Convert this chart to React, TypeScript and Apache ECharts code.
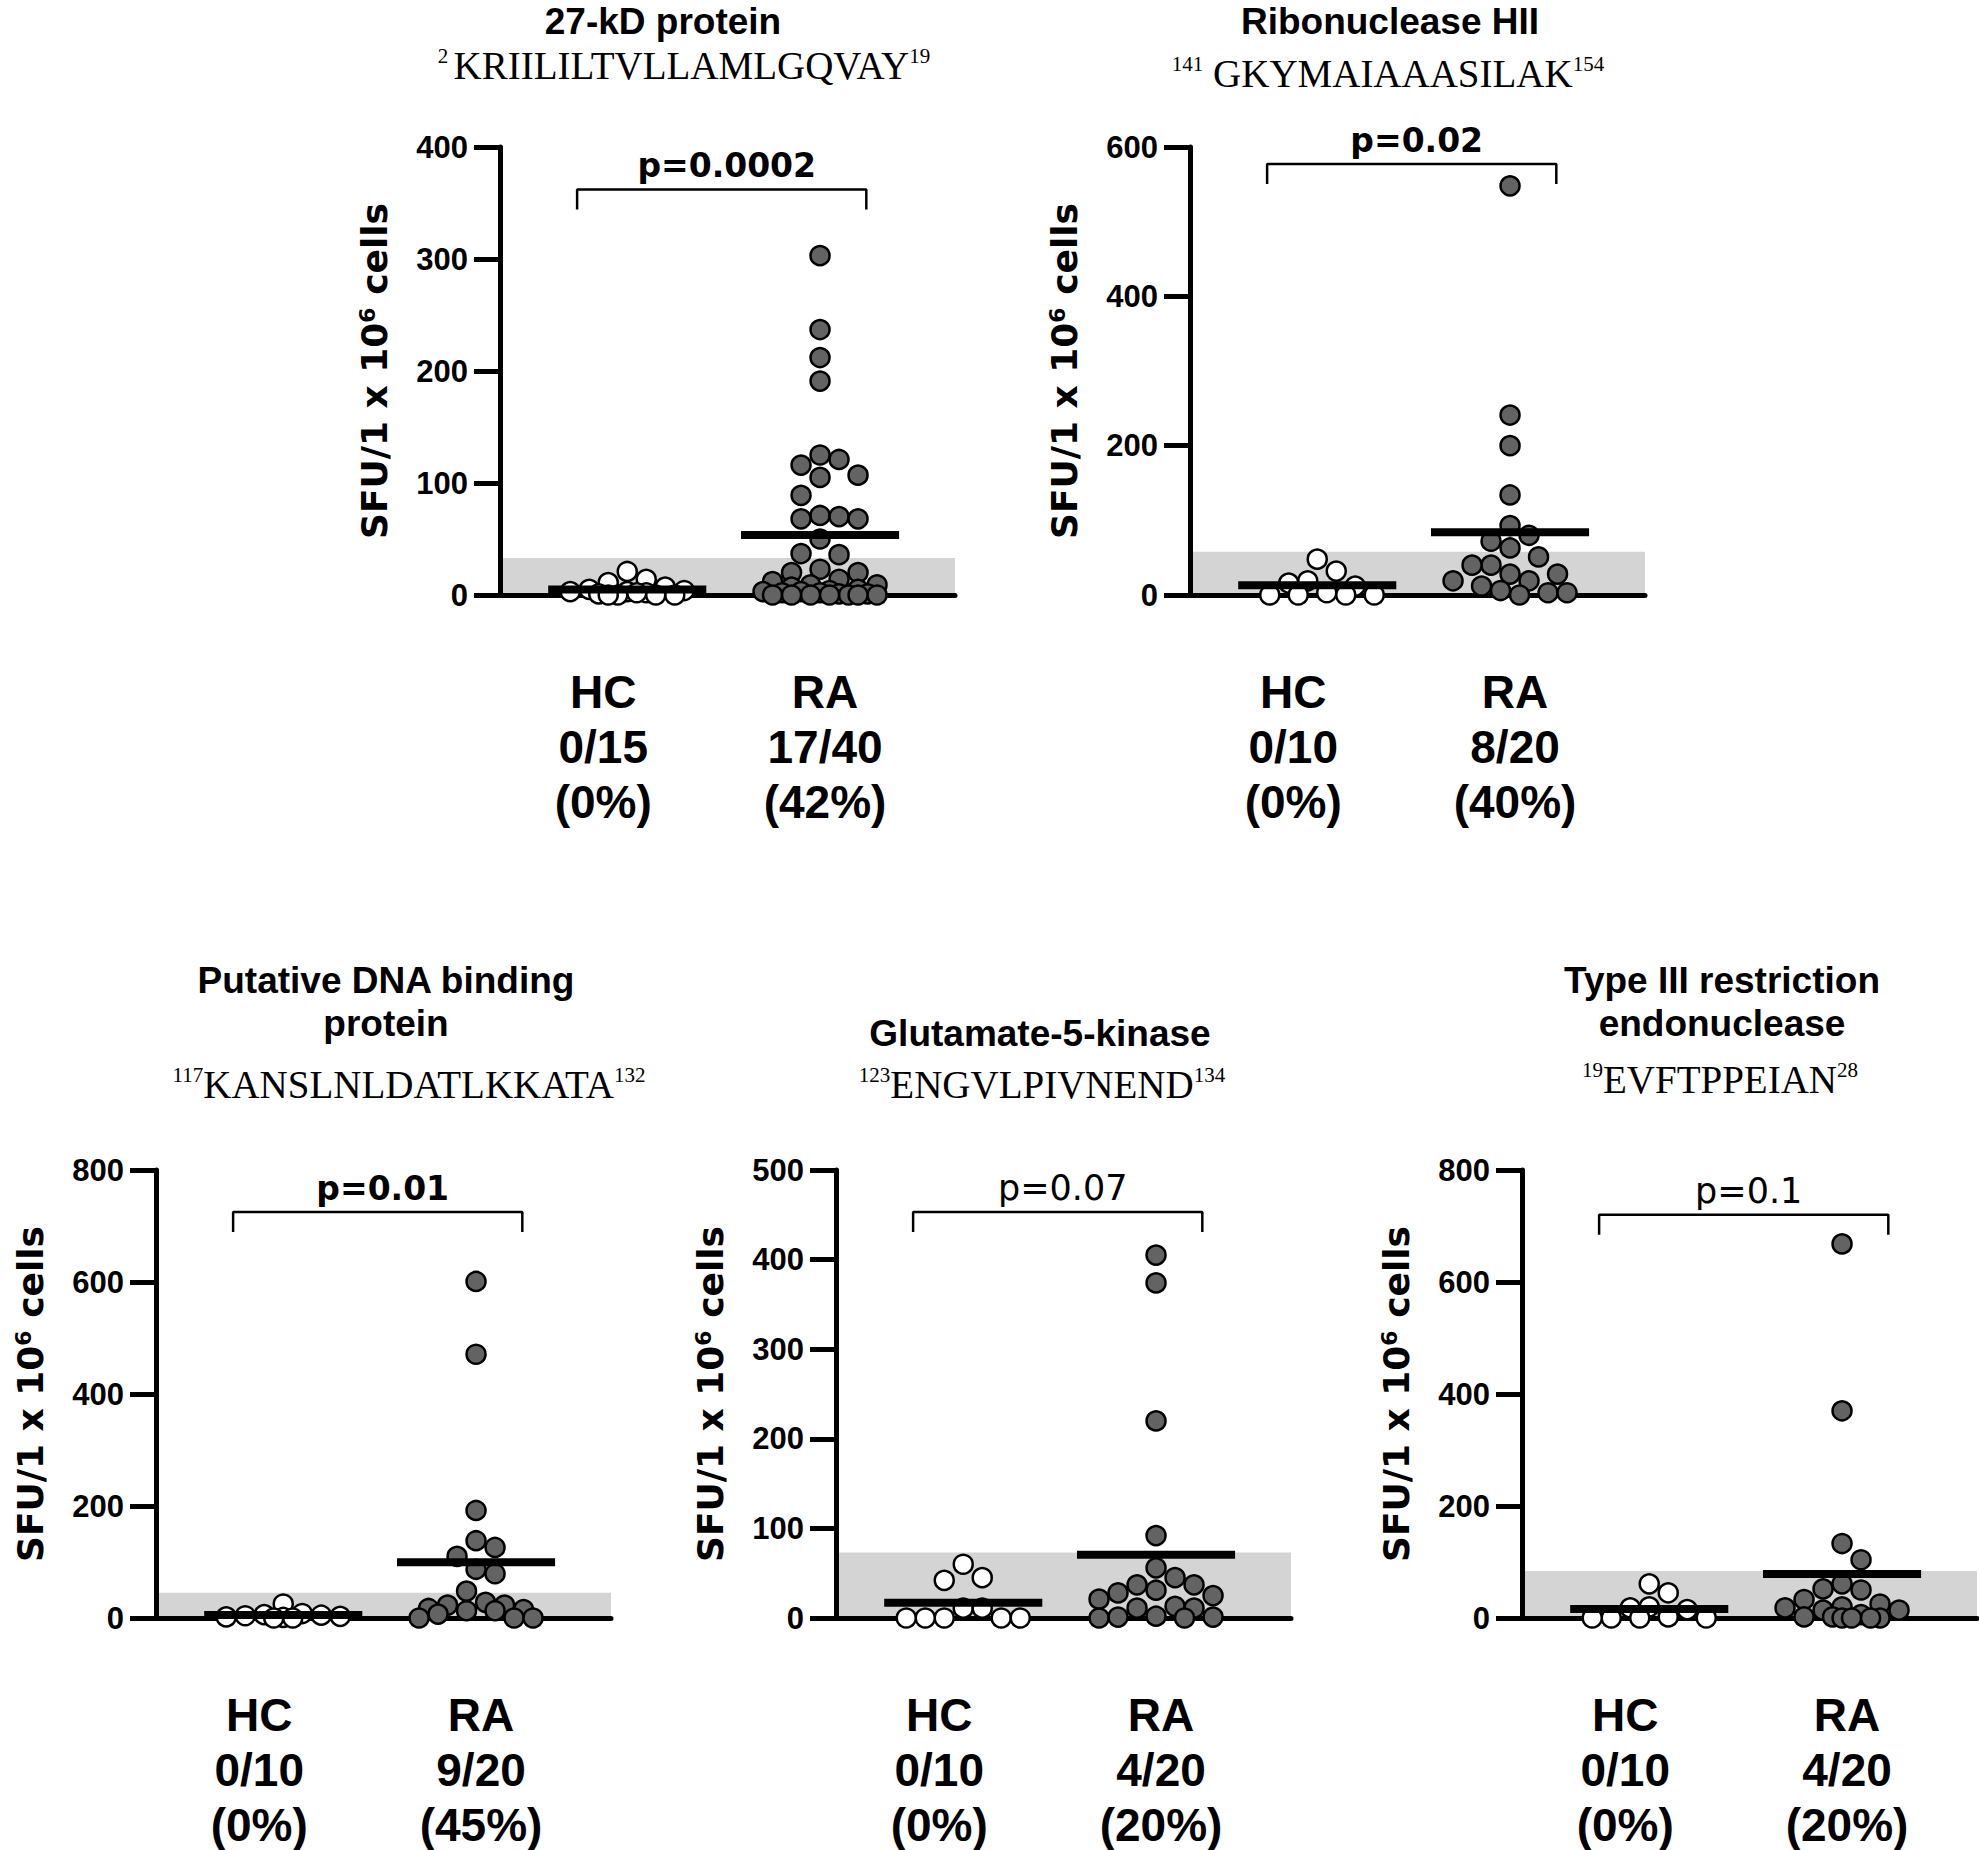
import React, { useEffect, useRef } from 'react';
import * as echarts from 'echarts';

const SANS = '"Liberation Sans", Arial, Helvetica, sans-serif';
const WIDE = '"DejaVu Sans", Verdana, sans-serif';
const SERIF = '"Liberation Serif", "Times New Roman", Times, serif';

// ---------- data ----------
const groups = ['HC', 'RA'];

const panelTitles = [
  '27-kD protein',
  'Ribonuclease HII',
  'Putative DNA binding\nprotein',
  'Glutamate-5-kinase',
  'Type III restriction\nendonuclease',
];
const seqStart = ['2 ', '141', '117', '123', '19'];
const seqBody = ['KRIILILTVLLAMLGQVAY', ' GKYMAIAAASILAK', 'KANSLNLDATLKKATA', 'ENGVLPIVNEND', 'EVFTPPEIAN'];
const seqEnd = ['19', '154', '132', '134', '28'];

const hc27kD = [21, 14, 11, 7, 5, 4, 3, 3, 2, 2, 1, 0, 0, 0, 0];
const ra27kD = [303, 237, 212, 191, 125, 121, 116, 107, 105, 89, 71, 70, 68, 68, 50, 37, 36, 23, 20, 20,
  14, 12, 9, 9, 7, 5, 4, 3, 3, 2, 2, 1, 1, 0, 0, 0, 0, 0, 0, 0];
const hcRnase = [48, 32, 19, 16, 12, 3, 0, 0, 0, 0];
const raRnase = [548, 241, 200, 134, 93, 80, 72, 63, 51, 40, 40, 28, 28, 19, 19, 12, 6, 3, 3, 0];
const hcDnaBind = [25, 8, 6, 5, 4, 3, 2, 1, 0, 0];
const raDnaBind = [601, 471, 192, 138, 126, 110, 87, 79, 48, 28, 23, 23, 17, 15, 13, 13, 7, 0, 0, 0];
const hcGlu5K = [60, 45, 42, 11, 11, 0, 0, 0, 0, 0];
const raGlu5K = [405, 374, 220, 92, 56, 45, 37, 37, 31, 28, 25, 21, 13, 11, 11, 2, 1, 1, 0, 0];
const hcType3 = [61, 45, 20, 18, 15, 2, 0, 0, 0, 0];
const raType3 = [668, 370, 133, 104, 61, 52, 50, 33, 25, 20, 18, 14, 14, 6, 2, 2, 0, 0, 0, 0];

const hcValues = [hc27kD, hcRnase, hcDnaBind, hcGlu5K, hcType3];
const raValues = [ra27kD, raRnase, raDnaBind, raGlu5K, raType3];

const yMax = [400, 600, 800, 500, 800];
const yStep = [100, 200, 200, 100, 200];
const thresholds = [33, 58, 45, 73, 84];
const pTexts = ['p=0.0002', 'p=0.02', 'p=0.01', 'p=0.07', 'p=0.1'];
const pBold = [true, true, true, false, false];
const hcCounts = ['0/15', '0/10', '0/10', '0/10', '0/10'];
const hcPct = ['(0%)', '(0%)', '(0%)', '(0%)', '(0%)'];
const raCounts = ['17/40', '8/20', '9/20', '4/20', '4/20'];
const raPct = ['(42%)', '(40%)', '(45%)', '(20%)', '(20%)'];
const yTitle = 'SFU/1 x 10{sup|6} cells';

// ---------- layout / style ----------
const GRID_W = 455;
const GRID_H = 448;
const gridPos = [[500, 147], [1190, 147], [156, 1170], [836, 1170], [1522, 1170]];
const titlePos = [[663, 21], [1390, 21], [386, 1002], [1040, 1033], [1722, 1002]];
const seqPos = [[684, 65], [1388, 73], [409, 1084], [1042, 1084], [1720, 1079]];
const bracketFrac = [0.905, 0.962, 0.906, 0.906, 0.9];
const X_MIN = 0.34;
const X_MAX = 2.7;
const COLLIDE = 19;
const Y_WEIGHT = 0.85;
const SPREAD = 58;
const MEAN_HALF = 0.41;

function swarmOffsets(values: number[], pxPerVal: number, dc: number, maxW: number): number[] {
  const order = values.map((_, i) => i).sort((a, b) => values[b] - values[a] || a - b);
  const placed: { x: number; y: number }[] = [];
  const out = new Array(values.length).fill(0);
  const step = dc / 2;
  const nK = Math.floor(maxW / step);
  let flip = 1;
  for (const i of order) {
    const y = values[i] * pxPerVal;
    const minD = (x: number) =>
      placed.reduce((m, p) => Math.min(m, Math.hypot(p.x - x, (p.y - y) * Y_WEIGHT)), Infinity);
    const free = (x: number) => minD(x) >= dc * 0.98;
    let chosen: number | null = null;
    if (free(0)) chosen = 0;
    else {
      for (let k = 1; k <= nK; k++) {
        const a = flip * k * step;
        if (free(a)) { chosen = a; flip = -flip; break; }
        if (free(-a)) { chosen = -a; break; }
      }
    }
    if (chosen === null) {
      let best = 0;
      let bestD = -1;
      for (let k = 0; k <= nK; k++) {
        for (const s of k === 0 ? [0] : [flip * k * step, -flip * k * step]) {
          const d = minD(s);
          if (d > bestD + 0.5) { bestD = d; best = s; }
        }
      }
      chosen = best;
      flip = -flip;
    }
    placed.push({ x: chosen, y });
    out[i] = chosen;
  }
  return out;
}

const mean = (a: number[]) => a.reduce((s, v) => s + v, 0) / a.length;

export default function App() {
  const ref = useRef<HTMLDivElement>(null);
  useEffect(() => {
    document.body.style.margin = '0';
    const el = ref.current!;
    const chart = echarts.init(el, null, { renderer: 'svg' });
    const unit = GRID_W / (X_MAX - X_MIN);
    const grids: any[] = [];
    const xAxes: any[] = [];
    const yAxes: any[] = [];
    const series: any[] = [];

    panelTitles.forEach((_, i) => {
      const pxPerVal = GRID_H / yMax[i];
      grids.push({ left: gridPos[i][0], top: gridPos[i][1], width: GRID_W, height: GRID_H, containLabel: false });
      const hcLabel = [groups[0], hcCounts[i], hcPct[i]].map((s) => `{hc|${s}}`).join('\n');
      const raLabel = [groups[1], raCounts[i], raPct[i]].map((s) => `{ra|${s}}`).join('\n');
      const catStyle = { fontFamily: SANS, fontWeight: 'bold', fontSize: 46, lineHeight: 55, color: '#000' };
      xAxes.push({
        type: 'value', gridIndex: i, min: X_MIN, max: X_MAX, z: 3,
        axisLine: { show: true, onZero: false, lineStyle: { color: '#000', width: 5 } },
        axisTick: { show: false },
        splitLine: { show: false },
        axisLabel: {
          customValues: [1, 2],
          margin: 69,
          formatter: (v: number) => (Math.abs(v - 1) < 1e-6 ? hcLabel : Math.abs(v - 2) < 1e-6 ? raLabel : ''),
          rich: {
            hc: { ...catStyle, padding: [0, 48, 0, 0] },
            ra: { ...catStyle, padding: [0, 0, 0, 10] },
          },
        },
      });
      yAxes.push({
        type: 'value', gridIndex: i, min: 0, max: yMax[i], interval: yStep[i], z: 3,
        axisLine: { show: true, lineStyle: { color: '#000', width: 5 } },
        axisTick: { show: true, length: 26, lineStyle: { color: '#000', width: 5 } },
        splitLine: { show: false },
        axisLabel: { color: '#000', fontFamily: SANS, fontWeight: 'bold', fontSize: 31, margin: 32 },
        name: yTitle,
        nameLocation: 'middle',
        nameRotate: 90,
        nameGap: 108,
        nameTextStyle: {
          color: '#000', fontFamily: WIDE, fontWeight: 'bold', fontSize: 36,
          rich: { sup: { color: '#000', fontFamily: WIDE, fontWeight: 'bold', fontSize: 22, verticalAlign: 'top', lineHeight: 12 } },
        },
      });

      // threshold band
      series.push({
        type: 'line', xAxisIndex: i, yAxisIndex: i, z: 1, silent: true, symbol: 'none',
        data: [[X_MIN, thresholds[i]], [X_MAX, thresholds[i]]],
        lineStyle: { width: 0, opacity: 0 },
        areaStyle: { color: '#d4d4d4', opacity: 1 },
      });

      [hcValues[i], raValues[i]].forEach((vals, g) => {
        const offs = swarmOffsets(vals, pxPerVal, COLLIDE, SPREAD);
        series.push({
          type: 'scatter', name: groups[g], xAxisIndex: i, yAxisIndex: i, z: 4, silent: true,
          symbol: 'circle', symbolSize: 19,
          itemStyle: { color: g === 0 ? '#ffffff' : '#636363', borderColor: '#000', borderWidth: 2.5, opacity: 1 },
          data: vals.map((v, j) => [g + 1 + offs[j] / unit, v]),
        });
        const m = mean(vals);
        series.push({
          type: 'line', xAxisIndex: i, yAxisIndex: i, z: 5, silent: true, symbol: 'none',
          data: [[g + 1 - MEAN_HALF, m], [g + 1 + MEAN_HALF, m]],
          lineStyle: { color: '#000', width: 8, cap: 'butt' },
        });
      });

      const top = bracketFrac[i] * yMax[i];
      const tick = 20 / pxPerVal;
      series.push({
        type: 'line', xAxisIndex: i, yAxisIndex: i, z: 5, silent: true, symbol: 'none',
        data: [[0.74, top - tick], [0.74, top], [2.24, top], [2.24, top - tick]],
        lineStyle: { color: '#000', width: 2.5 },
      });
    });

    chart.setOption({
      animation: false,
      backgroundColor: '#ffffff',
      grid: grids,
      xAxis: xAxes,
      yAxis: yAxes,
      series,
    });

    const graphic: any[] = [];
    panelTitles.forEach((t, i) => {
      const multi = t.indexOf('\n') >= 0;
      graphic.push({
        type: 'text', x: titlePos[i][0], y: titlePos[i][1], silent: true,
        style: {
          text: t, fill: '#000', fontFamily: SANS, fontWeight: 'bold', fontSize: 37,
          lineHeight: multi ? 43 : 37,
          align: 'center', verticalAlign: 'middle',
        },
      });
      graphic.push({
        type: 'text', x: seqPos[i][0], y: seqPos[i][1], silent: true,
        style: {
          text: `{sup|${seqStart[i]}}{main|${seqBody[i]}}{sup|${seqEnd[i]}}`,
          align: 'center', verticalAlign: 'middle',
          rich: {
            main: { fill: '#000', fontFamily: SERIF, fontSize: 39 },
            sup: { fill: '#000', fontFamily: SERIF, fontSize: 21, verticalAlign: 'top', lineHeight: 14 },
          },
        },
      });
      const top = bracketFrac[i] * yMax[i];
      const pt = chart.convertToPixel({ gridIndex: i }, [1.49, top]) as number[];
      graphic.push({
        type: 'text', x: pt[0] + 5, y: pt[1] - 24, silent: true,
        style: {
          text: pTexts[i], fill: '#000', fontFamily: WIDE,
          fontWeight: pBold[i] ? 'bold' : 'normal', fontSize: pBold[i] ? 33 : 35,
          align: 'center', verticalAlign: 'middle',
        },
      });
    });
    chart.setOption({ graphic });

    return () => chart.dispose();
  }, []);
  return (
    <div
      ref={ref}
      style={{ position: 'absolute', left: 0, top: 0, width: 1979, height: 1850, background: '#fff' }}
    />
  );
}
